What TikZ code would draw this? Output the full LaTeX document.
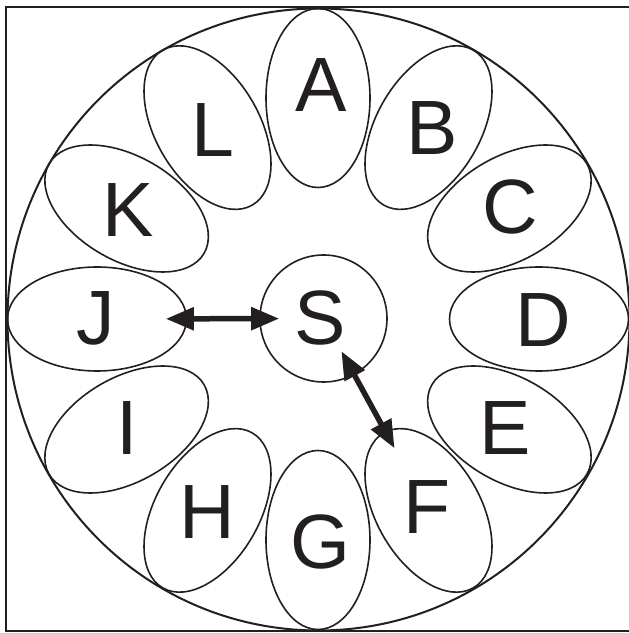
\documentclass[tikz,border=0pt]{standalone}
\usepackage{fontspec}
\setmainfont{Liberation Sans}
\usetikzlibrary{arrows.meta,shapes.geometric,calc}
\definecolor{ink}{HTML}{231F20}
\begin{document}
\begin{tikzpicture}[x=1pt,y=1pt,
  frame/.style={draw=ink,line width=2pt},
  rim/.style={draw=ink,line width=2pt},
  petal/.style={ellipse,draw=ink,line width=1.6pt,minimum width=179pt,minimum height=104pt,inner sep=0pt},
  hub/.style={circle,draw=ink,line width=1.6pt,minimum size=127pt,inner sep=0pt},
  letter/.style={inner sep=0pt,font=\fontsize{77}{77}\selectfont,text=ink},
  link/.style={draw=ink,line width=5.5pt,{Triangle[length=28pt,width=22pt]}-{Triangle[length=28pt,width=22pt]}}]
\useasboundingbox (0,0) rectangle (629,633);
% frame (right side lies beyond the picture)
\draw[frame] (640,626) -- (6,626) -- (6,2) -- (640,2);
% outer circle
\draw[rim] (318.5,313.5) circle (311);
% petals
\foreach \n/\a in {A/90,B/60,C/30,D/0,E/-30,F/-60,G/-90,H/-120,I/-150,J/180,K/150,L/120}{
  \node[petal,rotate=\a] (e\n) at ($(318,314)+(\a:221)$) {};
}
% hub
\node[hub] (S) at (323.5,314.5) {};
\node[letter] (lS) at (320,315) {S};
% letters
\node[letter] (lA) at (321,548) {A};
\node[letter] (lB) at (432,505) {B};
\node[letter] (lC) at (510,426) {C};
\node[letter] (lD) at (543,313) {D};
\node[letter] (lE) at (505,205) {E};
\node[letter] (lF) at (427,126) {F};
\node[letter] (lG) at (320,91) {G};
\node[letter] (lH) at (207,121) {H};
\node[letter] (lI) at (127,205) {I};
\node[letter] (lJ) at (96,315) {J};
\node[letter] (lK) at (128,423) {K};
\node[letter] (lL) at (213,503) {L};
% connectors
\draw[link,shorten <=-21.5pt,shorten >=-20pt] (eJ) -- (S);
\draw[link,shorten <=-27pt,shorten >=-19.5pt] (S) -- (eF);
\end{tikzpicture}
\end{document}
